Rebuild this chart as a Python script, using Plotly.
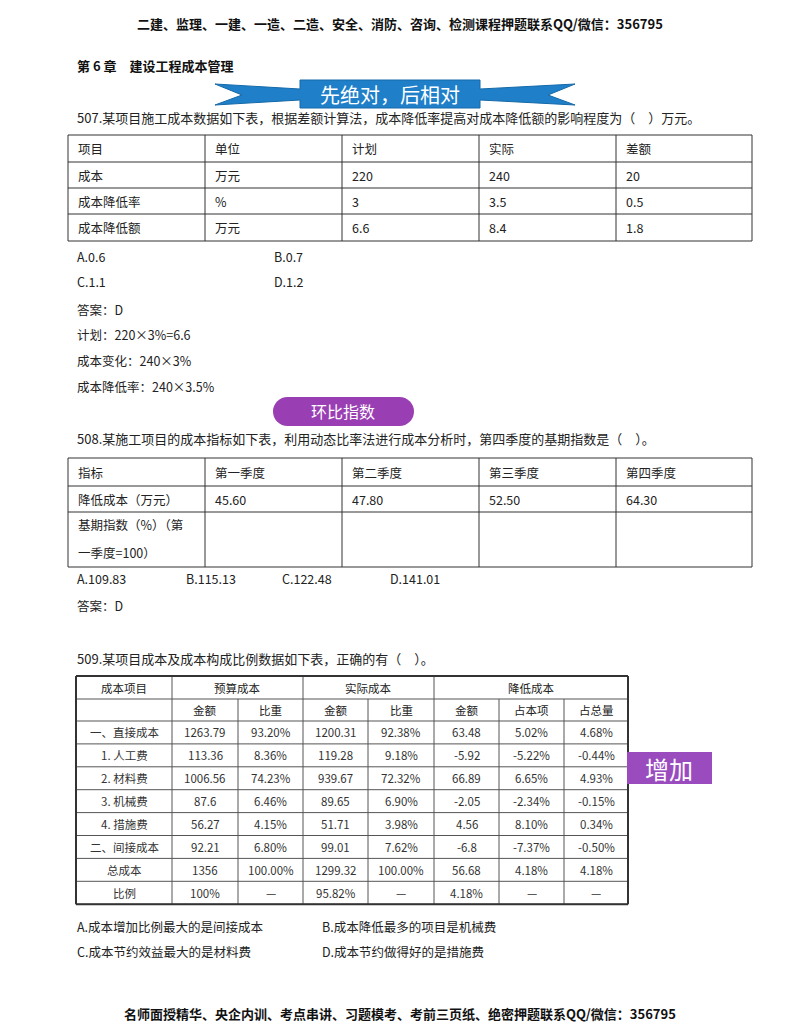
import plotly.graph_objects as go

FONT = "Noto Sans CJK SC"

header_text = "二建、监理、一建、一造、二造、安全、消防、咨询、检测课程押题联系QQ/微信：356795"
footer_text = "名师面授精华、央企内训、考点串讲、习题模考、考前三页纸、绝密押题联系QQ/微信：356795"
chapter = "第 6 章　建设工程成本管理"

q507 = "507.某项目施工成本数据如下表，根据差额计算法，成本降低率提高对成本降低额的影响程度为（　）万元。"
t1_rows = [
    ["项目", "单位", "计划", "实际", "差额"],
    ["成本", "万元", "220", "240", "20"],
    ["成本降低率", "%", "3", "3.5", "0.5"],
    ["成本降低额", "万元", "6.6", "8.4", "1.8"],
]
q507_opts = [["A.0.6", "B.0.7"], ["C.1.1", "D.1.2"]]
q507_notes = ["答案：D", "计划：220×3%=6.6", "成本变化：240×3%", "成本降低率：240×3.5%"]

q508 = "508.某施工项目的成本指标如下表，利用动态比率法进行成本分析时，第四季度的基期指数是（　）。"
t2_header = ["指标", "第一季度", "第二季度", "第三季度", "第四季度"]
t2_values = ["降低成本（万元）", "45.60", "47.80", "52.50", "64.30"]
t2_last = ["基期指数（%）（第", "一季度=100）"]
q508_opts = ["A.109.83", "B.115.13", "C.122.48", "D.141.01"]

q509 = "509.某项目成本及成本构成比例数据如下表，正确的有（　）。"
t3_groups = ["预算成本", "实际成本", "降低成本"]
t3_sub = ["金额", "比重", "金额", "比重", "金额", "占本项", "占总量"]
t3_items = ["一、直接成本", "1. 人工费", "2. 材料费", "3. 机械费", "4. 措施费", "二、间接成本", "总成本", "比例"]
t3_budget = ["1263.79", "113.36", "1006.56", "87.6", "56.27", "92.21", "1356", "100%"]
t3_budget_pct = ["93.20%", "8.36%", "74.23%", "6.46%", "4.15%", "6.80%", "100.00%", "—"]
t3_actual = ["1200.31", "119.28", "939.67", "89.65", "51.71", "99.01", "1299.32", "95.82%"]
t3_actual_pct = ["92.38%", "9.18%", "72.32%", "6.90%", "3.98%", "7.62%", "100.00%", "—"]
t3_reduce = ["63.48", "-5.92", "66.89", "-2.05", "4.56", "-6.8", "56.68", "4.18%"]
t3_reduce_item = ["5.02%", "-5.22%", "6.65%", "-2.34%", "8.10%", "-7.37%", "4.18%", "—"]
t3_reduce_total = ["4.68%", "-0.44%", "4.93%", "-0.15%", "0.34%", "-0.50%", "4.18%", "—"]
q509_opts = [["A.成本增加比例最大的是间接成本", "B.成本降低最多的项目是机械费"],
             ["C.成本节约效益最大的是材料费", "D.成本节约做得好的是措施费"]]

ann, shapes = [], []


def txt(x, y, s, size=12.5, anchor="left", color="#222", bold=False):
    if bold:
        s = "<b>" + s + "</b>"
    ann.append(dict(x=x, y=y, text=s, showarrow=False, xanchor=anchor, yanchor="middle",
                    font=dict(family=FONT, size=size, color=color)))


def line(x0, y0, x1, y1, w=1, color="#333"):
    shapes.append(dict(type="line", x0=x0, y0=y0, x1=x1, y1=y1, line=dict(color=color, width=w)))


txt(400, 23, header_text, 13, "center", "#111", True)
txt(75, 65, chapter, 13, bold=True, color="#111")

# blue ribbon banner
shapes.append(dict(type="path",
                   path="M215,84 L300,89 L300,80 L480,80 L480,89 L575,84 L548,95 L575,105 L480,100 L480,108 L300,108 L300,100 L215,105 L242,95 Z",
                   fillcolor="#1f80c9", line=dict(color="#1669a8", width=1)))
txt(390, 94, "先绝对，后相对", 20, "center", "white")

txt(75, 117, q507, 13)
cols1 = [68, 205, 342, 479, 616, 752]
rows1 = [135, 162, 188, 214, 241]
for y in rows1:
    line(cols1[0], y, cols1[-1], y)
for x in cols1:
    line(x, rows1[0], x, rows1[-1])
for r, row in enumerate(t1_rows):
    for c, v in enumerate(row):
        txt(cols1[c] + 8, (rows1[r] + rows1[r + 1]) / 2, v)
for i, pair in enumerate(q507_opts):
    txt(75, 256 + 25 * i, pair[0])
    txt(272, 256 + 25 * i, pair[1])
for i, s in enumerate(q507_notes):
    txt(75, 309 + 25.7 * i, s)

# purple pill
shapes.append(dict(type="rect", x0=287, y0=397, x1=400, y1=426, fillcolor="#9a3fb3",
                   line=dict(width=0)))
shapes.append(dict(type="circle", x0=273, y0=397, x1=302, y1=426, fillcolor="#9a3fb3", line=dict(width=0)))
shapes.append(dict(type="circle", x0=385, y0=397, x1=414, y1=426, fillcolor="#9a3fb3", line=dict(width=0)))
txt(343, 411, "环比指数", 16, "center", "white")

txt(75, 438, q508, 13)
rows2 = [458, 486, 512, 567]
for y in rows2:
    line(cols1[0], y, cols1[-1], y)
for x in cols1:
    line(x, rows2[0], x, rows2[-1])
for c in range(5):
    txt(cols1[c] + 8, 472, t2_header[c])
    txt(cols1[c] + 8, 499, t2_values[c])
txt(cols1[0] + 8, 524, t2_last[0])
txt(cols1[0] + 8, 552, t2_last[1])
for i, s in enumerate(q508_opts):
    txt([75, 184, 280, 388][i], 578, s)
txt(75, 605, "答案：D")

txt(75, 658, q509, 13)
cols3 = [76, 172, 238, 303, 368, 434, 499, 564, 628]
rows3 = [676, 699, 721] + [721 + 22.9 * (i + 1) for i in range(8)]
for y in rows3:
    line(cols3[0], y, cols3[-1], y, 1, "#555")
for x in cols3:
    if x in (cols3[0], cols3[1], cols3[3], cols3[5], cols3[-1]):
        line(x, rows3[0], x, rows3[-1], 1, "#555")
    else:
        line(x, rows3[1], x, rows3[-1], 1, "#555")
line(cols3[0], rows3[0], cols3[0], rows3[-1], 2, "#333")
line(cols3[-1], rows3[0], cols3[-1], rows3[-1], 2, "#333")
line(cols3[0], rows3[0], cols3[-1], rows3[0], 2, "#333")
line(cols3[0], rows3[-1], cols3[-1], rows3[-1], 2, "#333")
FS = 11.5
txt((cols3[0] + cols3[1]) / 2, 688, "成本项目", FS, "center")
for g, name in enumerate(t3_groups):
    txt((cols3[1 + 2 * g] + cols3[3 + 2 * g if g < 2 else 8]) / 2, 688, name, FS, "center")
for c, s in enumerate(t3_sub):
    txt((cols3[c + 1] + cols3[c + 2]) / 2, 710, s, FS, "center")
cols_data = [t3_items, t3_budget, t3_budget_pct, t3_actual, t3_actual_pct,
             t3_reduce, t3_reduce_item, t3_reduce_total]
for c, col in enumerate(cols_data):
    for r, v in enumerate(col):
        txt((cols3[c] + cols3[c + 1]) / 2, (rows3[r + 2] + rows3[r + 3]) / 2, v, FS, "center", "#333")

shapes.append(dict(type="rect", x0=627, y0=752, x1=712, y1=784, fillcolor="#9a4cbf", line=dict(width=0)))
txt(669, 768, "增加", 24, "center", "white")

for i, pair in enumerate(q509_opts):
    txt(75, 926 + 25 * i, pair[0])
    txt(320, 926 + 25 * i, pair[1])

txt(400, 1013, footer_text, 13, "center", "#111", True)

fig = go.Figure()
# the page body has an 8px margin, so shift the coordinate frame to compensate
fig.update_layout(width=800, height=1035, margin=dict(l=0, r=0, t=0, b=0),
                  paper_bgcolor="white", plot_bgcolor="white",
                  xaxis=dict(range=[8, 808], visible=False, fixedrange=True),
                  yaxis=dict(range=[1043, 8], visible=False, fixedrange=True),
                  annotations=ann, shapes=shapes, showlegend=False)
fig.write_html("out.html", config=dict(displayModeBar=False))
